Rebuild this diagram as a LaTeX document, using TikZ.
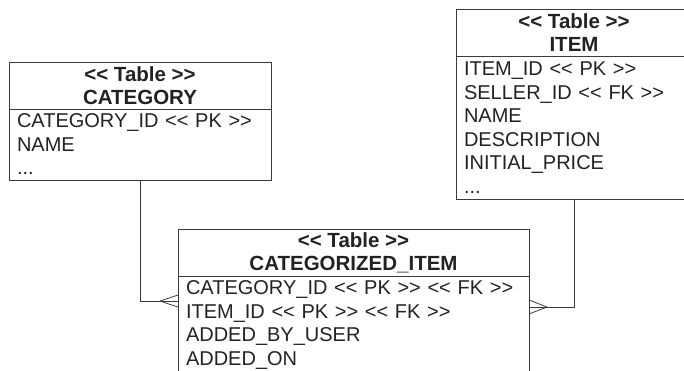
\documentclass[tikz,border=0pt]{standalone}
\usepackage{fontspec}
\setmainfont{Liberation Sans}[Ligatures=TeXOff]
\usepackage{xcolor}
\usepackage{tikz}
\usetikzlibrary{positioning, calc}
\definecolor{lineink}{HTML}{3A3A3A}
\definecolor{textink}{HTML}{222222}
\newcommand{\keytag}[1]{<< #1 >>}

\begin{document}
\begin{tikzpicture}[
  x=1pt, y=-1pt,
  tablehead/.style={draw=lineink, line width=0.8pt, outer sep=0pt, anchor=north west, inner sep=0pt, minimum height=47pt, align=center, text=textink, font=\fontsize{20.5}{23}\selectfont\bfseries},
  tablebody/.style={draw=lineink, line width=0.8pt, outer sep=0pt, inner xsep=8pt, inner ysep=5pt, align=left, text=textink, font=\fontsize{20}{23.5}\selectfont},
  conn/.style={draw=lineink, line width=0.8pt},
]
  \useasboundingbox (0,0) rectangle (684,370);
  \clip (0,0) rectangle (684,370);

  \node[tablehead, minimum width=262pt] (cat-head) at (9,62) {\keytag{Table}\\CATEGORY};
  \node[tablebody, below=0pt of cat-head, text width=246pt, minimum height=71pt] (cat-body) {CATEGORY\_ID \keytag{PK}\\NAME\\...};

  \node[tablehead, minimum width=236pt] (item-head) at (456,9) {\keytag{Table}\\ITEM};
  \node[tablebody, below=0pt of item-head, text width=220pt, minimum height=143pt] (item-body) {ITEM\_ID \keytag{PK}\\SELLER\_ID \keytag{FK}\\NAME\\DESCRIPTION\\INITIAL\_PRICE\\...};

  \node[tablehead, minimum width=351pt] (ci-head) at (178,229) {\keytag{Table}\\CATEGORIZED\_ITEM};
  \node[tablebody, below=0pt of ci-head, text width=335pt] (ci-body) {CATEGORY\_ID \keytag{PK} \keytag{FK}\\ITEM\_ID \keytag{PK} \keytag{FK}\\ADDED\_BY\_USER\\ADDED\_ON\rule[-30pt]{0pt}{30pt}};

  % crow's feet on the join table
  \coordinate (foot-l) at ($(ci-body.north west)+(0,25)$);
  \coordinate (foot-r) at ($(ci-body.north east)+(0,31)$);

  \draw[conn] (cat-body.south) |- (foot-l);
  \draw[conn] ([xshift=-18pt]foot-l) -- ([yshift=6pt]foot-l) ([xshift=-18pt]foot-l) -- ([yshift=-6pt]foot-l);

  \draw[conn] (item-body.south) |- (foot-r);
  \draw[conn] ([xshift=18pt]foot-r) -- ([yshift=7pt]foot-r) ([xshift=18pt]foot-r) -- ([yshift=-7pt]foot-r);
\end{tikzpicture}
\end{document}
